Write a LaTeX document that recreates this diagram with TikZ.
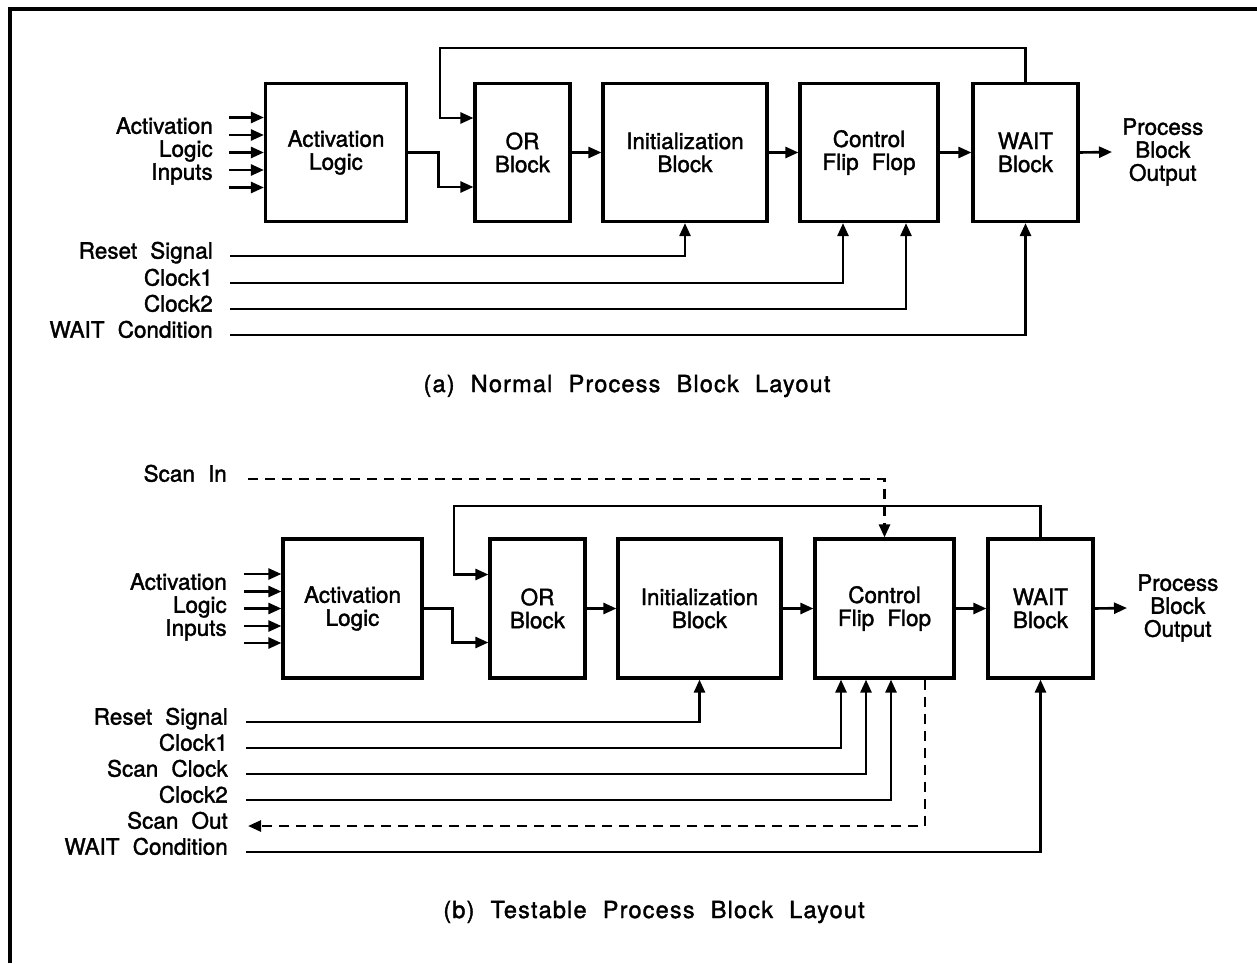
\documentclass[tikz,border=0pt]{standalone}
\usepackage{fontspec}
\setmainfont{TeX Gyre Heros}[WordSpace=2.1, FakeBold=1.6]
\usetikzlibrary{arrows.meta}
\tikzset{
 blk/.style={draw, line width=3.2pt, align=center, inner sep=0pt, font=\fontsize{22.5}{23}\selectfont},
 ln/.style={line width=2.6pt, line cap=butt, line join=miter},
 arr/.style={ln, -{Triangle[length=13pt,width=11pt]}},
 dsh/.style={dash pattern=on 10pt off 7pt},
 lbl/.style={inner sep=0pt, align=right, font=\fontsize{22.5}{23}\selectfont},
 outl/.style={inner sep=0pt, align=center, anchor=west, font=\fontsize{22.5}{23}\selectfont},
 capt/.style={inner sep=0pt, font=\fontsize{23.5}{24}\selectfont\addfontfeatures{LetterSpace=5}},
}
\begin{document}
\begin{tikzpicture}[x=1pt,y=-1pt]
\useasboundingbox (0,0) rectangle (1257,963);
\fill[white] (0,0) rectangle (1257,963);
\draw[line width=4pt] (10,963) -- (10,9) -- (1257,9);

% ---------------- (a) ----------------
\node[blk, minimum width=141pt, minimum height=138pt] (al) at (336,152.5) {Activation\\Logic};
\node[blk, minimum width=95pt, minimum height=138pt] (or) at (522.5,152.5) {OR\\Block};
\node[blk, minimum width=164pt, minimum height=138pt] (ib) at (685,152.5) {Initialization\\Block};
\node[blk, minimum width=138pt, minimum height=138pt] (cf) at (869,152.5) {Control\\Flip Flop};
\node[blk, minimum width=105pt, minimum height=138pt] (wb) at (1025.5,152.5) {WAIT\\Block};

\node[lbl, anchor=east] (ali) at (213,151) {Activation\\Logic\\Inputs};
\foreach \d in {35,17.5,0,-17.5,-35}
  \draw[arr] ([xshift=-35pt,yshift=\d pt]al.west) -- ([yshift=\d pt]al.west);

\coordinate (fa) at (440,48);
\draw[arr] (al.east) -| ([xshift=-35pt,yshift=-34.5pt]or.west) -- ([yshift=-34.5pt]or.west);
\draw[arr] (wb.north) |- (fa) |- ([yshift=34.5pt]or.west);
\draw[arr] (or.east) -- (ib.west);
\draw[arr] (ib.east) -- (cf.west);
\draw[arr] (cf.east) -- (wb.west);
\node[outl] (pboa) at (1122,152) {Process\\Block\\Output};
\draw[arr] (wb.east) -- ([xshift=-10pt]pboa.west);

\node[lbl, anchor=mid east] (rsa) at (213,256) {Reset Signal};
\node[lbl, anchor=mid east] (c1a) at (213,283) {Clock1};
\node[lbl, anchor=mid east] (c2a) at (213,309) {Clock2};
\node[lbl, anchor=mid east] (wca) at (213,335) {WAIT Condition};
\draw[arr] ([xshift=17pt]rsa.mid east) -| (ib.south);
\draw[arr] ([xshift=17pt]c1a.mid east) -| ([xshift=-26pt]cf.south);
\draw[arr] ([xshift=17pt]c2a.mid east) -| ([xshift=37pt]cf.south);
\draw[arr] ([xshift=17pt]wca.mid east) -| (wb.south);

\node[capt] (capa) at (627,386) {(a) Normal Process Block Layout};

% ---------------- (b) ----------------
\node[blk, minimum width=139pt, minimum height=139pt] (al2) at (352.5,608.5) {Activation\\Logic};
\node[blk, minimum width=95pt, minimum height=139pt] (or2) at (537.5,608.5) {OR\\Block};
\node[blk, minimum width=163pt, minimum height=139pt] (ib2) at (699.5,608.5) {Initialization\\Block};
\node[blk, minimum width=139pt, minimum height=139pt] (cf2) at (884.5,608.5) {Control\\Flip Flop};
\node[blk, minimum width=105pt, minimum height=139pt] (wb2) at (1040.5,608.5) {WAIT\\Block};

\node[lbl, anchor=east] (ali2) at (227,607) {Activation\\Logic\\Inputs};
\foreach \d in {34.5,17,0,-17.5,-34.5}
  \draw[arr] ([xshift=-37pt,yshift=\d pt]al2.west) -- ([yshift=\d pt]al2.west);

\coordinate (fb) at (454,506);
\draw[arr] (al2.east) -| ([xshift=-36pt,yshift=-34pt]or2.west) -- ([yshift=-34pt]or2.west);
\draw[arr] (wb2.north) |- (fb) |- ([yshift=34pt]or2.west);
\draw[arr] (or2.east) -- (ib2.west);
\draw[arr] (ib2.east) -- (cf2.west);
\draw[arr] (cf2.east) -- (wb2.west);
\node[outl] (pbob) at (1137,608) {Process\\Block\\Output};
\draw[arr] (wb2.east) -- ([xshift=-10pt]pbob.west);

\node[lbl, anchor=mid east] (sib) at (227,479) {Scan In};
\draw[arr, dsh] ([xshift=21pt]sib.mid east) -| (cf2.north);

\node[lbl, anchor=mid east] (rsb) at (228,722) {Reset Signal};
\node[lbl, anchor=mid east] (c1b) at (228,748) {Clock1};
\node[lbl, anchor=mid east] (scb) at (228,774) {Scan Clock};
\node[lbl, anchor=mid east] (c2b) at (228,800) {Clock2};
\node[lbl, anchor=mid east] (sob) at (228,826) {Scan Out};
\node[lbl, anchor=mid east] (wcb) at (228,852) {WAIT Condition};
\draw[arr] ([xshift=18pt]rsb.mid east) -| (ib2.south);
\draw[arr] ([xshift=18pt]c1b.mid east) -| ([xshift=-43.5pt]cf2.south);
\draw[arr] ([xshift=18pt]scb.mid east) -| ([xshift=-18.5pt]cf2.south);
\draw[arr] ([xshift=18pt]c2b.mid east) -| ([xshift=6.5pt]cf2.south);
\draw[arr, dsh] ([xshift=40.5pt]cf2.south) |- ([xshift=20pt]sob.mid east);
\draw[arr] ([xshift=18pt]wcb.mid east) -| (wb2.south);

\node[capt] (capb) at (654,912) {(b) Testable Process Block Layout};
\end{tikzpicture}
\end{document}
